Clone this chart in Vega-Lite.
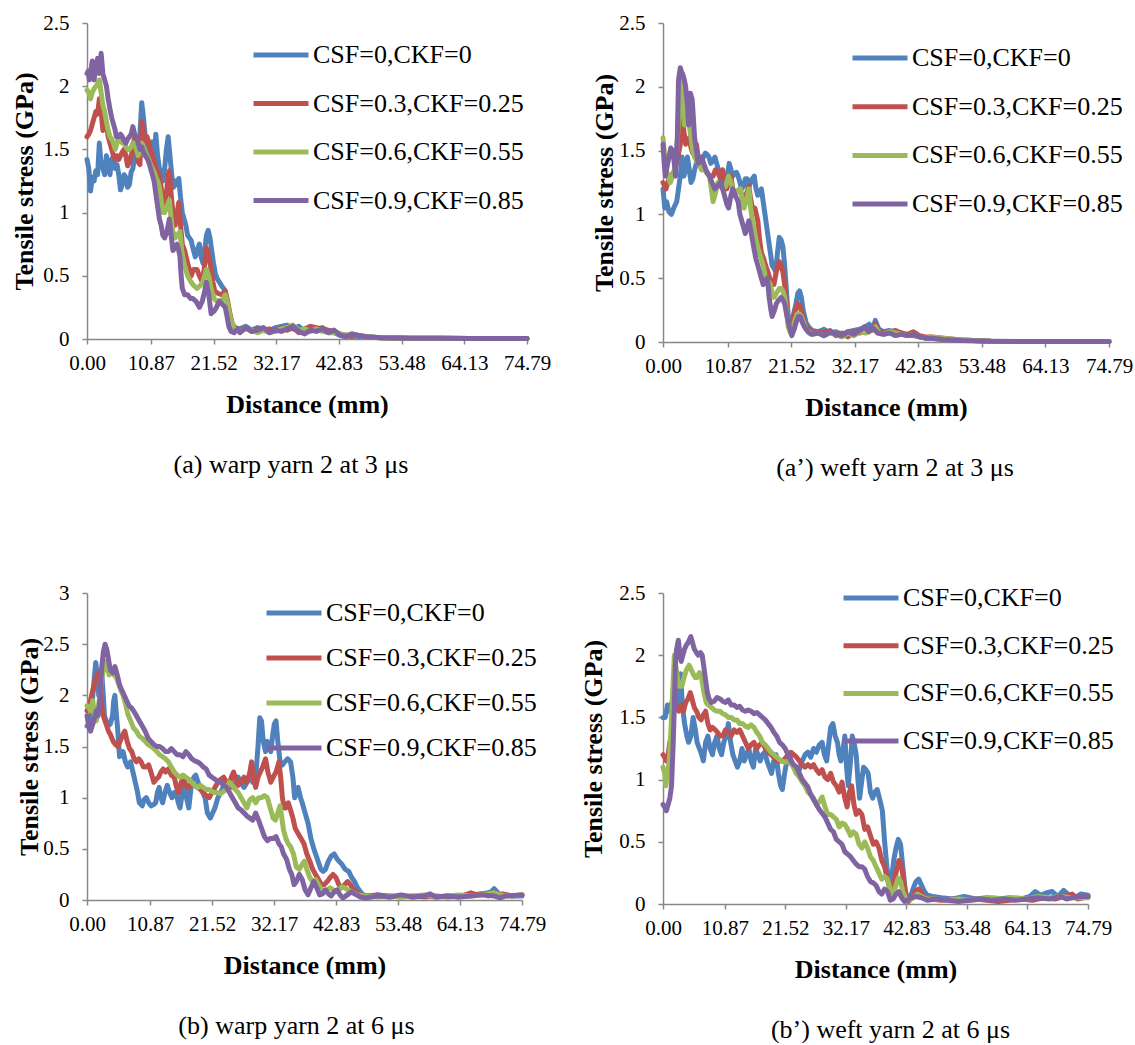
{
"$schema":"https://vega.github.io/schema/vega-lite/v6.json",
"background":"white",
"padding":{"left":11,"top":12,"right":0,"bottom":0},
"config":{
 "font":"Liberation Serif",
 "view":{"stroke":null},
 "axis":{"domainColor":"#888888","tickColor":"#888888","domainWidth":1.5,"tickWidth":1.5,"labelColor":"black","titleColor":"black","labelFont":"Liberation Serif","titleFont":"Liberation Serif","labelFontSize":21,"titleFontSize":26,"titleFontWeight":"bold","grid":false,"tickSize":5,"labelOverlap":false,"labelFlush":false},
 "axisX":{"labelPadding":8,"titlePadding":18},
 "axisY":{"labelPadding":13},
 "legend":{"symbolType":"stroke","symbolSize":3025,"symbolStrokeWidth":5,"labelFontSize":26,"labelFont":"Liberation Serif","labelColor":"black","labelOffset":2,"padding":0,"offset":0,"labelLimit":400},
 "title":{"font":"Liberation Serif","fontSize":26,"fontWeight":"normal","color":"black","anchor":"middle","frame":"group"},
 "line":{"strokeWidth":5,"strokeCap":"round","strokeJoin":"round"}
},
"datasets":{
"a":[
{"s":0,"x":0,"y":1.42},{"s":0,"x":0.3,"y":1.35},{"s":0,"x":0.6,"y":1.17},{"s":0,"x":0.9,"y":1.28},{"s":0,"x":1.2,"y":1.25},{"s":0,"x":1.5,"y":1.33},{"s":0,"x":1.8,"y":1.3},{"s":0,"x":2.1,"y":1.55},{"s":0,"x":2.4,"y":1.38},{"s":0,"x":2.7,"y":1.35},{"s":0,"x":3.0,"y":1.3},{"s":0,"x":3.3,"y":1.45},{"s":0,"x":3.6,"y":1.38},{"s":0,"x":3.9,"y":1.3},{"s":0,"x":4.2,"y":1.42},{"s":0,"x":4.5,"y":1.45},{"s":0,"x":4.8,"y":1.35},{"s":0,"x":5.1,"y":1.38},{"s":0,"x":5.4,"y":1.3},{"s":0,"x":5.7,"y":1.18},{"s":0,"x":6.0,"y":1.22},{"s":0,"x":6.3,"y":1.3},{"s":0,"x":6.6,"y":1.28},{"s":0,"x":6.9,"y":1.2},{"s":0,"x":7.2,"y":1.22},{"s":0,"x":7.5,"y":1.32},{"s":0,"x":7.8,"y":1.35},{"s":0,"x":8.1,"y":1.45},{"s":0,"x":8.4,"y":1.55},{"s":0,"x":8.7,"y":1.45},{"s":0,"x":9.0,"y":1.62},{"s":0,"x":9.3,"y":1.87},{"s":0,"x":9.6,"y":1.75},{"s":0,"x":9.9,"y":1.6},{"s":0,"x":10.2,"y":1.5},{"s":0,"x":10.5,"y":1.4},{"s":0,"x":10.8,"y":1.5},{"s":0,"x":11.1,"y":1.56},{"s":0,"x":11.4,"y":1.42},{"s":0,"x":11.7,"y":1.62},{"s":0,"x":12.0,"y":1.45},{"s":0,"x":12.3,"y":1.35},{"s":0,"x":12.6,"y":1.3},{"s":0,"x":12.9,"y":1.25},{"s":0,"x":13.2,"y":1.35},{"s":0,"x":13.5,"y":1.5},{"s":0,"x":13.8,"y":1.6},{"s":0,"x":14.1,"y":1.45},{"s":0,"x":14.4,"y":1.3},{"s":0,"x":14.7,"y":1.2},{"s":0,"x":15.0,"y":1.25},{"s":0,"x":15.3,"y":1.22},{"s":0,"x":15.6,"y":1.27},{"s":0,"x":15.9,"y":1.12},{"s":0,"x":16.2,"y":1.0},{"s":0,"x":16.5,"y":0.95},{"s":0,"x":16.8,"y":0.9},{"s":0,"x":17.1,"y":0.82},{"s":0,"x":17.4,"y":0.8},{"s":0,"x":17.7,"y":0.78},{"s":0,"x":18.0,"y":0.72},{"s":0,"x":18.4,"y":0.65},{"s":0,"x":18.7,"y":0.7},{"s":0,"x":19.1,"y":0.75},{"s":0,"x":19.4,"y":0.65},{"s":0,"x":19.7,"y":0.6},{"s":0,"x":20.0,"y":0.7},{"s":0,"x":20.3,"y":0.82},{"s":0,"x":20.6,"y":0.86},{"s":0,"x":20.9,"y":0.8},{"s":0,"x":21.2,"y":0.7},{"s":0,"x":21.5,"y":0.6},{"s":0,"x":21.8,"y":0.52},{"s":0,"x":22.1,"y":0.48},{"s":0,"x":22.5,"y":0.45},{"s":0,"x":22.9,"y":0.42},{"s":0,"x":23.2,"y":0.4},{"s":0,"x":23.5,"y":0.38},{"s":0,"x":23.8,"y":0.3},{"s":0,"x":24.1,"y":0.2},{"s":0,"x":24.4,"y":0.14},{"s":0,"x":24.7,"y":0.1},{"s":0,"x":25.2,"y":0.09},{"s":0,"x":26,"y":0.08},{"s":0,"x":27,"y":0.1},{"s":0,"x":28,"y":0.07},{"s":0,"x":29,"y":0.09},{"s":0,"x":30,"y":0.08},{"s":0,"x":31,"y":0.06},{"s":0,"x":32,"y":0.09},{"s":0,"x":33,"y":0.1},{"s":0,"x":34,"y":0.11},{"s":0,"x":35,"y":0.08},{"s":0,"x":36,"y":0.1},{"s":0,"x":37,"y":0.06},{"s":0,"x":38,"y":0.08},{"s":0,"x":39,"y":0.07},{"s":0,"x":40,"y":0.09},{"s":0,"x":41,"y":0.06},{"s":0,"x":42,"y":0.05},{"s":0,"x":43,"y":0.03},{"s":0,"x":44,"y":0.02},{"s":0,"x":45,"y":0.03},{"s":0,"x":46,"y":0.02},{"s":0,"x":48,"y":0.015},{"s":0,"x":50,"y":0.01},{"s":0,"x":55,"y":0.005},{"s":0,"x":60,"y":0.005},{"s":0,"x":65,"y":0.003},{"s":0,"x":70,"y":0.003},{"s":0,"x":74.79,"y":0.003},
{"s":1,"x":0,"y":1.6},{"s":1,"x":0.3,"y":1.62},{"s":1,"x":0.6,"y":1.65},{"s":1,"x":0.9,"y":1.7},{"s":1,"x":1.2,"y":1.75},{"s":1,"x":1.5,"y":1.8},{"s":1,"x":1.8,"y":1.78},{"s":1,"x":2.1,"y":1.9},{"s":1,"x":2.4,"y":1.8},{"s":1,"x":2.7,"y":1.65},{"s":1,"x":3.0,"y":1.68},{"s":1,"x":3.3,"y":1.7},{"s":1,"x":3.6,"y":1.6},{"s":1,"x":3.9,"y":1.55},{"s":1,"x":4.2,"y":1.5},{"s":1,"x":4.5,"y":1.45},{"s":1,"x":4.8,"y":1.42},{"s":1,"x":5.1,"y":1.45},{"s":1,"x":5.4,"y":1.42},{"s":1,"x":5.7,"y":1.45},{"s":1,"x":6.0,"y":1.48},{"s":1,"x":6.3,"y":1.5},{"s":1,"x":6.6,"y":1.45},{"s":1,"x":6.9,"y":1.37},{"s":1,"x":7.2,"y":1.4},{"s":1,"x":7.5,"y":1.45},{"s":1,"x":7.8,"y":1.5},{"s":1,"x":8.1,"y":1.6},{"s":1,"x":8.4,"y":1.5},{"s":1,"x":8.7,"y":1.4},{"s":1,"x":9.0,"y":1.38},{"s":1,"x":9.3,"y":1.72},{"s":1,"x":9.6,"y":1.65},{"s":1,"x":9.9,"y":1.55},{"s":1,"x":10.2,"y":1.6},{"s":1,"x":10.5,"y":1.55},{"s":1,"x":10.8,"y":1.5},{"s":1,"x":11.1,"y":1.45},{"s":1,"x":11.4,"y":1.4},{"s":1,"x":11.7,"y":1.35},{"s":1,"x":12.0,"y":1.32},{"s":1,"x":12.3,"y":1.3},{"s":1,"x":12.6,"y":1.2},{"s":1,"x":12.9,"y":1.1},{"s":1,"x":13.2,"y":1.05},{"s":1,"x":13.5,"y":1.15},{"s":1,"x":13.8,"y":1.3},{"s":1,"x":14.0,"y":1.33},{"s":1,"x":14.3,"y":1.15},{"s":1,"x":14.6,"y":1.0},{"s":1,"x":15.0,"y":0.9},{"s":1,"x":15.3,"y":1.0},{"s":1,"x":15.6,"y":1.08},{"s":1,"x":15.9,"y":0.9},{"s":1,"x":16.2,"y":0.75},{"s":1,"x":16.6,"y":0.7},{"s":1,"x":17.1,"y":0.6},{"s":1,"x":17.4,"y":0.55},{"s":1,"x":17.7,"y":0.5},{"s":1,"x":18.1,"y":0.55},{"s":1,"x":18.7,"y":0.55},{"s":1,"x":19.1,"y":0.5},{"s":1,"x":19.6,"y":0.45},{"s":1,"x":19.9,"y":0.55},{"s":1,"x":20.3,"y":0.72},{"s":1,"x":20.6,"y":0.68},{"s":1,"x":21.1,"y":0.55},{"s":1,"x":21.4,"y":0.45},{"s":1,"x":21.7,"y":0.38},{"s":1,"x":22.3,"y":0.36},{"s":1,"x":22.9,"y":0.35},{"s":1,"x":23.5,"y":0.38},{"s":1,"x":23.9,"y":0.3},{"s":1,"x":24.3,"y":0.2},{"s":1,"x":24.7,"y":0.12},{"s":1,"x":25.3,"y":0.08},{"s":1,"x":26,"y":0.07},{"s":1,"x":27,"y":0.09},{"s":1,"x":28,"y":0.06},{"s":1,"x":29,"y":0.08},{"s":1,"x":30,"y":0.07},{"s":1,"x":31,"y":0.08},{"s":1,"x":32,"y":0.06},{"s":1,"x":33,"y":0.09},{"s":1,"x":34,"y":0.07},{"s":1,"x":35,"y":0.09},{"s":1,"x":36,"y":0.05},{"s":1,"x":37,"y":0.08},{"s":1,"x":38,"y":0.1},{"s":1,"x":39,"y":0.09},{"s":1,"x":40,"y":0.08},{"s":1,"x":41,"y":0.07},{"s":1,"x":42,"y":0.06},{"s":1,"x":43,"y":0.04},{"s":1,"x":44,"y":0.03},{"s":1,"x":45,"y":0.02},{"s":1,"x":46,"y":0.03},{"s":1,"x":48,"y":0.015},{"s":1,"x":50,"y":0.01},{"s":1,"x":55,"y":0.006},{"s":1,"x":60,"y":0.005},{"s":1,"x":65,"y":0.004},{"s":1,"x":70,"y":0.003},{"s":1,"x":74.79,"y":0.003},
{"s":2,"x":0,"y":1.97},{"s":2,"x":0.3,"y":1.95},{"s":2,"x":0.6,"y":1.9},{"s":2,"x":0.9,"y":1.95},{"s":2,"x":1.2,"y":1.98},{"s":2,"x":1.5,"y":2.0},{"s":2,"x":1.8,"y":2.02},{"s":2,"x":2.1,"y":2.05},{"s":2,"x":2.4,"y":1.95},{"s":2,"x":2.7,"y":1.85},{"s":2,"x":3.0,"y":1.8},{"s":2,"x":3.3,"y":1.72},{"s":2,"x":3.6,"y":1.65},{"s":2,"x":3.9,"y":1.6},{"s":2,"x":4.2,"y":1.58},{"s":2,"x":4.5,"y":1.55},{"s":2,"x":4.8,"y":1.5},{"s":2,"x":5.1,"y":1.55},{"s":2,"x":5.4,"y":1.6},{"s":2,"x":5.7,"y":1.57},{"s":2,"x":6.0,"y":1.55},{"s":2,"x":6.3,"y":1.55},{"s":2,"x":6.6,"y":1.52},{"s":2,"x":6.9,"y":1.5},{"s":2,"x":7.2,"y":1.5},{"s":2,"x":7.5,"y":1.52},{"s":2,"x":7.8,"y":1.55},{"s":2,"x":8.1,"y":1.55},{"s":2,"x":8.4,"y":1.5},{"s":2,"x":8.7,"y":1.45},{"s":2,"x":9.0,"y":1.48},{"s":2,"x":9.3,"y":1.55},{"s":2,"x":9.6,"y":1.52},{"s":2,"x":9.9,"y":1.48},{"s":2,"x":10.2,"y":1.45},{"s":2,"x":10.5,"y":1.42},{"s":2,"x":10.8,"y":1.38},{"s":2,"x":11.1,"y":1.35},{"s":2,"x":11.4,"y":1.32},{"s":2,"x":11.7,"y":1.28},{"s":2,"x":12.0,"y":1.25},{"s":2,"x":12.3,"y":1.2},{"s":2,"x":12.6,"y":1.1},{"s":2,"x":12.9,"y":1.0},{"s":2,"x":13.2,"y":1.0},{"s":2,"x":13.6,"y":1.05},{"s":2,"x":14.0,"y":1.1},{"s":2,"x":14.3,"y":0.95},{"s":2,"x":14.6,"y":0.85},{"s":2,"x":15.0,"y":0.8},{"s":2,"x":15.3,"y":0.82},{"s":2,"x":15.8,"y":0.85},{"s":2,"x":16.1,"y":0.7},{"s":2,"x":16.5,"y":0.6},{"s":2,"x":17.1,"y":0.5},{"s":2,"x":17.7,"y":0.45},{"s":2,"x":18.2,"y":0.42},{"s":2,"x":18.7,"y":0.4},{"s":2,"x":19.2,"y":0.42},{"s":2,"x":19.7,"y":0.45},{"s":2,"x":20.3,"y":0.55},{"s":2,"x":20.7,"y":0.5},{"s":2,"x":21.1,"y":0.4},{"s":2,"x":21.6,"y":0.32},{"s":2,"x":22.0,"y":0.3},{"s":2,"x":22.5,"y":0.3},{"s":2,"x":22.9,"y":0.3},{"s":2,"x":23.5,"y":0.35},{"s":2,"x":23.9,"y":0.28},{"s":2,"x":24.3,"y":0.18},{"s":2,"x":24.7,"y":0.12},{"s":2,"x":25.3,"y":0.07},{"s":2,"x":26,"y":0.06},{"s":2,"x":27,"y":0.08},{"s":2,"x":28,"y":0.07},{"s":2,"x":29,"y":0.05},{"s":2,"x":30,"y":0.07},{"s":2,"x":31,"y":0.05},{"s":2,"x":32,"y":0.06},{"s":2,"x":33,"y":0.08},{"s":2,"x":34,"y":0.09},{"s":2,"x":35,"y":0.11},{"s":2,"x":36,"y":0.07},{"s":2,"x":37,"y":0.08},{"s":2,"x":38,"y":0.06},{"s":2,"x":39,"y":0.08},{"s":2,"x":40,"y":0.06},{"s":2,"x":41,"y":0.05},{"s":2,"x":42,"y":0.05},{"s":2,"x":43,"y":0.04},{"s":2,"x":44,"y":0.03},{"s":2,"x":45,"y":0.04},{"s":2,"x":46,"y":0.03},{"s":2,"x":48,"y":0.015},{"s":2,"x":50,"y":0.01},{"s":2,"x":55,"y":0.006},{"s":2,"x":60,"y":0.005},{"s":2,"x":65,"y":0.004},{"s":2,"x":70,"y":0.003},{"s":2,"x":74.79,"y":0.003},
{"s":3,"x":0,"y":2.1},{"s":3,"x":0.2,"y":2.12},{"s":3,"x":0.4,"y":2.05},{"s":3,"x":0.6,"y":2.1},{"s":3,"x":0.9,"y":2.2},{"s":3,"x":1.2,"y":2.05},{"s":3,"x":1.5,"y":2.15},{"s":3,"x":1.8,"y":2.22},{"s":3,"x":2.1,"y":2.1},{"s":3,"x":2.4,"y":2.26},{"s":3,"x":2.7,"y":2.1},{"s":3,"x":3.0,"y":2.05},{"s":3,"x":3.3,"y":2.0},{"s":3,"x":3.6,"y":1.9},{"s":3,"x":3.9,"y":1.82},{"s":3,"x":4.2,"y":1.75},{"s":3,"x":4.5,"y":1.7},{"s":3,"x":4.8,"y":1.65},{"s":3,"x":5.0,"y":1.6},{"s":3,"x":5.4,"y":1.6},{"s":3,"x":5.7,"y":1.62},{"s":3,"x":6.0,"y":1.6},{"s":3,"x":6.3,"y":1.57},{"s":3,"x":6.6,"y":1.55},{"s":3,"x":6.9,"y":1.58},{"s":3,"x":7.2,"y":1.6},{"s":3,"x":7.5,"y":1.62},{"s":3,"x":7.8,"y":1.68},{"s":3,"x":8.1,"y":1.62},{"s":3,"x":8.4,"y":1.6},{"s":3,"x":8.7,"y":1.55},{"s":3,"x":9.0,"y":1.5},{"s":3,"x":9.3,"y":1.52},{"s":3,"x":9.6,"y":1.48},{"s":3,"x":9.9,"y":1.45},{"s":3,"x":10.2,"y":1.43},{"s":3,"x":10.5,"y":1.4},{"s":3,"x":10.8,"y":1.35},{"s":3,"x":11.1,"y":1.3},{"s":3,"x":11.4,"y":1.25},{"s":3,"x":11.7,"y":1.15},{"s":3,"x":12.0,"y":1.05},{"s":3,"x":12.3,"y":0.95},{"s":3,"x":12.6,"y":0.9},{"s":3,"x":12.9,"y":0.82},{"s":3,"x":13.2,"y":0.8},{"s":3,"x":13.6,"y":0.85},{"s":3,"x":14.0,"y":0.95},{"s":3,"x":14.3,"y":0.82},{"s":3,"x":14.6,"y":0.7},{"s":3,"x":15.0,"y":0.72},{"s":3,"x":15.3,"y":0.75},{"s":3,"x":15.6,"y":0.7},{"s":3,"x":15.8,"y":0.65},{"s":3,"x":16.0,"y":0.5},{"s":3,"x":16.2,"y":0.4},{"s":3,"x":16.6,"y":0.35},{"s":3,"x":17.1,"y":0.35},{"s":3,"x":17.6,"y":0.32},{"s":3,"x":18.0,"y":0.32},{"s":3,"x":18.5,"y":0.3},{"s":3,"x":19.1,"y":0.25},{"s":3,"x":19.6,"y":0.3},{"s":3,"x":20.0,"y":0.38},{"s":3,"x":20.3,"y":0.45},{"s":3,"x":20.7,"y":0.35},{"s":3,"x":21.1,"y":0.2},{"s":3,"x":21.6,"y":0.22},{"s":3,"x":22.0,"y":0.25},{"s":3,"x":22.5,"y":0.3},{"s":3,"x":22.9,"y":0.28},{"s":3,"x":23.5,"y":0.25},{"s":3,"x":23.8,"y":0.18},{"s":3,"x":24.1,"y":0.1},{"s":3,"x":24.5,"y":0.06},{"s":3,"x":25.0,"y":0.05},{"s":3,"x":25.6,"y":0.08},{"s":3,"x":26,"y":0.05},{"s":3,"x":27,"y":0.09},{"s":3,"x":28,"y":0.06},{"s":3,"x":29,"y":0.07},{"s":3,"x":30,"y":0.09},{"s":3,"x":31,"y":0.05},{"s":3,"x":32,"y":0.07},{"s":3,"x":33,"y":0.06},{"s":3,"x":34,"y":0.08},{"s":3,"x":35,"y":0.1},{"s":3,"x":36,"y":0.06},{"s":3,"x":37,"y":0.04},{"s":3,"x":38,"y":0.07},{"s":3,"x":39,"y":0.06},{"s":3,"x":40,"y":0.08},{"s":3,"x":41,"y":0.05},{"s":3,"x":42,"y":0.07},{"s":3,"x":43,"y":0.03},{"s":3,"x":44,"y":0.02},{"s":3,"x":45,"y":0.04},{"s":3,"x":46,"y":0.03},{"s":3,"x":48,"y":0.015},{"s":3,"x":50,"y":0.01},{"s":3,"x":55,"y":0.006},{"s":3,"x":60,"y":0.005},{"s":3,"x":65,"y":0.004},{"s":3,"x":70,"y":0.003},{"s":3,"x":74.79,"y":0.003}
],
"a2":[
{"s":0,"x":0,"y":1.2},{"s":0,"x":0.3,"y":1.05},{"s":0,"x":0.6,"y":1.1},{"s":0,"x":1.0,"y":1.02},{"s":0,"x":1.4,"y":1.0},{"s":0,"x":1.8,"y":1.05},{"s":0,"x":2.3,"y":1.1},{"s":0,"x":2.6,"y":1.2},{"s":0,"x":2.9,"y":1.3},{"s":0,"x":3.2,"y":1.45},{"s":0,"x":3.5,"y":1.3},{"s":0,"x":3.8,"y":1.35},{"s":0,"x":4.1,"y":1.45},{"s":0,"x":4.4,"y":1.35},{"s":0,"x":4.7,"y":1.25},{"s":0,"x":5.0,"y":1.28},{"s":0,"x":5.3,"y":1.35},{"s":0,"x":5.6,"y":1.4},{"s":0,"x":5.9,"y":1.45},{"s":0,"x":6.2,"y":1.45},{"s":0,"x":6.5,"y":1.42},{"s":0,"x":6.8,"y":1.45},{"s":0,"x":7.1,"y":1.48},{"s":0,"x":7.4,"y":1.47},{"s":0,"x":7.7,"y":1.45},{"s":0,"x":8.0,"y":1.4},{"s":0,"x":8.4,"y":1.42},{"s":0,"x":8.7,"y":1.45},{"s":0,"x":9.0,"y":1.4},{"s":0,"x":9.3,"y":1.35},{"s":0,"x":9.6,"y":1.3},{"s":0,"x":9.9,"y":1.3},{"s":0,"x":10.2,"y":1.25},{"s":0,"x":10.5,"y":1.2},{"s":0,"x":10.8,"y":1.3},{"s":0,"x":11.1,"y":1.4},{"s":0,"x":11.4,"y":1.35},{"s":0,"x":11.7,"y":1.3},{"s":0,"x":12.0,"y":1.32},{"s":0,"x":12.3,"y":1.33},{"s":0,"x":12.6,"y":1.3},{"s":0,"x":12.9,"y":1.25},{"s":0,"x":13.2,"y":1.2},{"s":0,"x":13.5,"y":1.22},{"s":0,"x":13.8,"y":1.28},{"s":0,"x":14.1,"y":1.28},{"s":0,"x":14.4,"y":1.22},{"s":0,"x":14.7,"y":1.25},{"s":0,"x":15.0,"y":1.28},{"s":0,"x":15.3,"y":1.3},{"s":0,"x":15.6,"y":1.2},{"s":0,"x":15.9,"y":1.15},{"s":0,"x":16.2,"y":1.18},{"s":0,"x":16.5,"y":1.2},{"s":0,"x":16.8,"y":1.1},{"s":0,"x":17.1,"y":1.0},{"s":0,"x":17.4,"y":0.9},{"s":0,"x":17.7,"y":0.8},{"s":0,"x":18.0,"y":0.7},{"s":0,"x":18.3,"y":0.6},{"s":0,"x":18.6,"y":0.58},{"s":0,"x":18.9,"y":0.55},{"s":0,"x":19.2,"y":0.7},{"s":0,"x":19.5,"y":0.82},{"s":0,"x":19.8,"y":0.8},{"s":0,"x":20.1,"y":0.75},{"s":0,"x":20.4,"y":0.6},{"s":0,"x":20.7,"y":0.4},{"s":0,"x":21.0,"y":0.2},{"s":0,"x":21.4,"y":0.1},{"s":0,"x":21.8,"y":0.2},{"s":0,"x":22.3,"y":0.3},{"s":0,"x":22.6,"y":0.38},{"s":0,"x":22.9,"y":0.4},{"s":0,"x":23.2,"y":0.35},{"s":0,"x":23.5,"y":0.25},{"s":0,"x":24.0,"y":0.15},{"s":0,"x":24.4,"y":0.12},{"s":0,"x":25,"y":0.09},{"s":0,"x":26,"y":0.08},{"s":0,"x":27,"y":0.1},{"s":0,"x":28,"y":0.07},{"s":0,"x":29,"y":0.08},{"s":0,"x":30,"y":0.06},{"s":0,"x":31,"y":0.08},{"s":0,"x":32,"y":0.09},{"s":0,"x":33,"y":0.1},{"s":0,"x":34,"y":0.12},{"s":0,"x":34.6,"y":0.14},{"s":0,"x":35.2,"y":0.1},{"s":0,"x":35.6,"y":0.17},{"s":0,"x":36.2,"y":0.1},{"s":0,"x":37,"y":0.08},{"s":0,"x":38,"y":0.09},{"s":0,"x":39,"y":0.07},{"s":0,"x":40,"y":0.07},{"s":0,"x":41,"y":0.05},{"s":0,"x":42,"y":0.05},{"s":0,"x":43,"y":0.04},{"s":0,"x":44,"y":0.03},{"s":0,"x":45,"y":0.03},{"s":0,"x":47,"y":0.02},{"s":0,"x":50,"y":0.015},{"s":0,"x":55,"y":0.005},{"s":0,"x":60,"y":0.004},{"s":0,"x":65,"y":0.003},{"s":0,"x":70,"y":0.003},{"s":0,"x":74.79,"y":0.003},
{"s":1,"x":0,"y":1.25},{"s":1,"x":0.5,"y":1.2},{"s":1,"x":1.0,"y":1.28},{"s":1,"x":1.4,"y":1.3},{"s":1,"x":2.0,"y":1.35},{"s":1,"x":2.5,"y":1.45},{"s":1,"x":2.9,"y":1.55},{"s":1,"x":3.2,"y":1.8},{"s":1,"x":3.5,"y":1.65},{"s":1,"x":3.8,"y":1.55},{"s":1,"x":4.1,"y":1.58},{"s":1,"x":4.4,"y":1.6},{"s":1,"x":4.7,"y":1.52},{"s":1,"x":5.0,"y":1.48},{"s":1,"x":5.3,"y":1.5},{"s":1,"x":5.6,"y":1.55},{"s":1,"x":5.9,"y":1.45},{"s":1,"x":6.2,"y":1.4},{"s":1,"x":6.5,"y":1.35},{"s":1,"x":7.0,"y":1.35},{"s":1,"x":7.4,"y":1.33},{"s":1,"x":7.8,"y":1.3},{"s":1,"x":8.4,"y":1.3},{"s":1,"x":8.8,"y":1.35},{"s":1,"x":9.3,"y":1.32},{"s":1,"x":9.6,"y":1.28},{"s":1,"x":10.0,"y":1.35},{"s":1,"x":10.4,"y":1.28},{"s":1,"x":10.7,"y":1.2},{"s":1,"x":11.0,"y":1.25},{"s":1,"x":11.4,"y":1.3},{"s":1,"x":11.7,"y":1.2},{"s":1,"x":12.0,"y":1.15},{"s":1,"x":12.4,"y":1.18},{"s":1,"x":12.9,"y":1.2},{"s":1,"x":13.2,"y":1.15},{"s":1,"x":13.5,"y":1.1},{"s":1,"x":13.9,"y":1.15},{"s":1,"x":14.4,"y":1.22},{"s":1,"x":14.7,"y":1.12},{"s":1,"x":15.0,"y":1.05},{"s":1,"x":15.4,"y":1.05},{"s":1,"x":15.9,"y":0.95},{"s":1,"x":16.2,"y":0.8},{"s":1,"x":16.5,"y":0.7},{"s":1,"x":16.9,"y":0.65},{"s":1,"x":17.2,"y":0.6},{"s":1,"x":17.6,"y":0.55},{"s":1,"x":17.9,"y":0.5},{"s":1,"x":18.3,"y":0.45},{"s":1,"x":18.6,"y":0.45},{"s":1,"x":19.0,"y":0.55},{"s":1,"x":19.5,"y":0.63},{"s":1,"x":19.8,"y":0.6},{"s":1,"x":20.1,"y":0.55},{"s":1,"x":20.4,"y":0.45},{"s":1,"x":20.7,"y":0.3},{"s":1,"x":21.0,"y":0.15},{"s":1,"x":21.4,"y":0.08},{"s":1,"x":21.8,"y":0.15},{"s":1,"x":22.2,"y":0.25},{"s":1,"x":22.6,"y":0.3},{"s":1,"x":23.0,"y":0.28},{"s":1,"x":23.4,"y":0.2},{"s":1,"x":23.8,"y":0.14},{"s":1,"x":24.4,"y":0.1},{"s":1,"x":25,"y":0.07},{"s":1,"x":26,"y":0.08},{"s":1,"x":27,"y":0.07},{"s":1,"x":28,"y":0.09},{"s":1,"x":29,"y":0.05},{"s":1,"x":30,"y":0.07},{"s":1,"x":31,"y":0.04},{"s":1,"x":32,"y":0.08},{"s":1,"x":33,"y":0.07},{"s":1,"x":34,"y":0.1},{"s":1,"x":35,"y":0.09},{"s":1,"x":35.6,"y":0.14},{"s":1,"x":36.2,"y":0.08},{"s":1,"x":37,"y":0.07},{"s":1,"x":38,"y":0.08},{"s":1,"x":39,"y":0.09},{"s":1,"x":40,"y":0.07},{"s":1,"x":41,"y":0.06},{"s":1,"x":42,"y":0.08},{"s":1,"x":43,"y":0.05},{"s":1,"x":44,"y":0.04},{"s":1,"x":45,"y":0.04},{"s":1,"x":47,"y":0.03},{"s":1,"x":50,"y":0.015},{"s":1,"x":55,"y":0.006},{"s":1,"x":60,"y":0.004},{"s":1,"x":65,"y":0.003},{"s":1,"x":70,"y":0.003},{"s":1,"x":74.79,"y":0.003},
{"s":2,"x":0,"y":1.6},{"s":2,"x":0.3,"y":1.45},{"s":2,"x":0.5,"y":1.35},{"s":2,"x":0.9,"y":1.3},{"s":2,"x":1.2,"y":1.25},{"s":2,"x":1.6,"y":1.3},{"s":2,"x":2.0,"y":1.35},{"s":2,"x":2.3,"y":1.5},{"s":2,"x":2.6,"y":1.75},{"s":2,"x":2.8,"y":1.9},{"s":2,"x":3.0,"y":2.05},{"s":2,"x":3.3,"y":1.85},{"s":2,"x":3.6,"y":1.7},{"s":2,"x":3.9,"y":1.72},{"s":2,"x":4.1,"y":1.75},{"s":2,"x":4.4,"y":1.7},{"s":2,"x":4.7,"y":1.6},{"s":2,"x":5.0,"y":1.5},{"s":2,"x":5.3,"y":1.45},{"s":2,"x":5.6,"y":1.42},{"s":2,"x":5.9,"y":1.4},{"s":2,"x":6.2,"y":1.38},{"s":2,"x":6.5,"y":1.35},{"s":2,"x":7.0,"y":1.35},{"s":2,"x":7.4,"y":1.32},{"s":2,"x":7.8,"y":1.3},{"s":2,"x":8.1,"y":1.2},{"s":2,"x":8.4,"y":1.1},{"s":2,"x":8.7,"y":1.15},{"s":2,"x":9.2,"y":1.25},{"s":2,"x":9.6,"y":1.22},{"s":2,"x":10.0,"y":1.2},{"s":2,"x":10.5,"y":1.22},{"s":2,"x":11.0,"y":1.3},{"s":2,"x":11.4,"y":1.25},{"s":2,"x":12.0,"y":1.15},{"s":2,"x":12.5,"y":1.18},{"s":2,"x":13.0,"y":1.2},{"s":2,"x":13.3,"y":1.1},{"s":2,"x":13.6,"y":1.05},{"s":2,"x":14.0,"y":1.12},{"s":2,"x":14.4,"y":1.2},{"s":2,"x":14.7,"y":1.05},{"s":2,"x":15.0,"y":0.95},{"s":2,"x":15.3,"y":0.88},{"s":2,"x":15.6,"y":0.8},{"s":2,"x":16.0,"y":0.72},{"s":2,"x":16.5,"y":0.65},{"s":2,"x":16.8,"y":0.6},{"s":2,"x":17.2,"y":0.5},{"s":2,"x":17.6,"y":0.48},{"s":2,"x":18.0,"y":0.45},{"s":2,"x":18.3,"y":0.38},{"s":2,"x":18.6,"y":0.35},{"s":2,"x":19.0,"y":0.38},{"s":2,"x":19.5,"y":0.42},{"s":2,"x":19.8,"y":0.42},{"s":2,"x":20.1,"y":0.4},{"s":2,"x":20.4,"y":0.35},{"s":2,"x":20.7,"y":0.25},{"s":2,"x":21.0,"y":0.12},{"s":2,"x":21.4,"y":0.07},{"s":2,"x":21.8,"y":0.12},{"s":2,"x":22.2,"y":0.18},{"s":2,"x":22.5,"y":0.22},{"s":2,"x":22.9,"y":0.22},{"s":2,"x":23.2,"y":0.2},{"s":2,"x":23.6,"y":0.15},{"s":2,"x":24.0,"y":0.1},{"s":2,"x":24.4,"y":0.08},{"s":2,"x":25,"y":0.06},{"s":2,"x":26,"y":0.07},{"s":2,"x":27,"y":0.05},{"s":2,"x":28,"y":0.07},{"s":2,"x":29,"y":0.06},{"s":2,"x":30,"y":0.04},{"s":2,"x":31,"y":0.07},{"s":2,"x":32,"y":0.05},{"s":2,"x":33,"y":0.08},{"s":2,"x":34,"y":0.07},{"s":2,"x":35,"y":0.09},{"s":2,"x":35.6,"y":0.12},{"s":2,"x":36.2,"y":0.07},{"s":2,"x":37,"y":0.06},{"s":2,"x":38,"y":0.08},{"s":2,"x":39,"y":0.07},{"s":2,"x":40,"y":0.06},{"s":2,"x":41,"y":0.05},{"s":2,"x":42,"y":0.06},{"s":2,"x":43,"y":0.04},{"s":2,"x":44,"y":0.03},{"s":2,"x":45,"y":0.04},{"s":2,"x":47,"y":0.03},{"s":2,"x":50,"y":0.015},{"s":2,"x":55,"y":0.006},{"s":2,"x":60,"y":0.004},{"s":2,"x":65,"y":0.003},{"s":2,"x":70,"y":0.003},{"s":2,"x":74.79,"y":0.003},
{"s":3,"x":0,"y":1.55},{"s":3,"x":0.2,"y":1.4},{"s":3,"x":0.4,"y":1.3},{"s":3,"x":0.7,"y":1.38},{"s":3,"x":1.0,"y":1.45},{"s":3,"x":1.3,"y":1.52},{"s":3,"x":1.6,"y":1.5},{"s":3,"x":1.9,"y":1.4},{"s":3,"x":2.1,"y":1.3},{"s":3,"x":2.4,"y":1.6},{"s":3,"x":2.6,"y":2.05},{"s":3,"x":2.9,"y":2.15},{"s":3,"x":3.1,"y":2.12},{"s":3,"x":3.3,"y":2.1},{"s":3,"x":3.6,"y":2.05},{"s":3,"x":3.8,"y":2.0},{"s":3,"x":4.1,"y":1.85},{"s":3,"x":4.3,"y":1.7},{"s":3,"x":4.6,"y":1.95},{"s":3,"x":4.9,"y":1.9},{"s":3,"x":5.1,"y":1.75},{"s":3,"x":5.3,"y":1.6},{"s":3,"x":5.6,"y":1.5},{"s":3,"x":5.9,"y":1.4},{"s":3,"x":6.2,"y":1.42},{"s":3,"x":6.5,"y":1.45},{"s":3,"x":6.8,"y":1.4},{"s":3,"x":7.2,"y":1.35},{"s":3,"x":7.5,"y":1.32},{"s":3,"x":7.8,"y":1.3},{"s":3,"x":8.2,"y":1.25},{"s":3,"x":8.7,"y":1.2},{"s":3,"x":9.1,"y":1.22},{"s":3,"x":9.6,"y":1.25},{"s":3,"x":10.0,"y":1.2},{"s":3,"x":10.3,"y":1.15},{"s":3,"x":10.7,"y":1.08},{"s":3,"x":11.0,"y":1.05},{"s":3,"x":11.4,"y":1.15},{"s":3,"x":11.7,"y":1.2},{"s":3,"x":12.1,"y":1.15},{"s":3,"x":12.6,"y":1.1},{"s":3,"x":12.9,"y":1.0},{"s":3,"x":13.2,"y":0.95},{"s":3,"x":13.5,"y":0.9},{"s":3,"x":13.8,"y":0.85},{"s":3,"x":14.1,"y":0.9},{"s":3,"x":14.4,"y":0.95},{"s":3,"x":14.7,"y":0.88},{"s":3,"x":15.0,"y":0.8},{"s":3,"x":15.3,"y":0.72},{"s":3,"x":15.6,"y":0.65},{"s":3,"x":15.9,"y":0.6},{"s":3,"x":16.2,"y":0.55},{"s":3,"x":16.5,"y":0.5},{"s":3,"x":16.8,"y":0.45},{"s":3,"x":17.1,"y":0.48},{"s":3,"x":17.5,"y":0.5},{"s":3,"x":17.8,"y":0.35},{"s":3,"x":18.1,"y":0.25},{"s":3,"x":18.3,"y":0.2},{"s":3,"x":18.7,"y":0.25},{"s":3,"x":19.0,"y":0.3},{"s":3,"x":19.4,"y":0.33},{"s":3,"x":19.8,"y":0.35},{"s":3,"x":20.1,"y":0.33},{"s":3,"x":20.4,"y":0.3},{"s":3,"x":20.8,"y":0.2},{"s":3,"x":21.2,"y":0.12},{"s":3,"x":21.6,"y":0.05},{"s":3,"x":22.0,"y":0.1},{"s":3,"x":22.3,"y":0.15},{"s":3,"x":22.7,"y":0.2},{"s":3,"x":23.0,"y":0.2},{"s":3,"x":23.4,"y":0.15},{"s":3,"x":23.7,"y":0.12},{"s":3,"x":24.0,"y":0.1},{"s":3,"x":24.5,"y":0.07},{"s":3,"x":25,"y":0.06},{"s":3,"x":26,"y":0.07},{"s":3,"x":27,"y":0.05},{"s":3,"x":28,"y":0.08},{"s":3,"x":29,"y":0.06},{"s":3,"x":30,"y":0.05},{"s":3,"x":31,"y":0.08},{"s":3,"x":32,"y":0.06},{"s":3,"x":33,"y":0.09},{"s":3,"x":33.8,"y":0.12},{"s":3,"x":34.5,"y":0.08},{"s":3,"x":35.2,"y":0.11},{"s":3,"x":36,"y":0.07},{"s":3,"x":37,"y":0.06},{"s":3,"x":38,"y":0.07},{"s":3,"x":39,"y":0.05},{"s":3,"x":40,"y":0.06},{"s":3,"x":41,"y":0.05},{"s":3,"x":42,"y":0.06},{"s":3,"x":43,"y":0.04},{"s":3,"x":44,"y":0.03},{"s":3,"x":45,"y":0.03},{"s":3,"x":47,"y":0.02},{"s":3,"x":50,"y":0.012},{"s":3,"x":55,"y":0.006},{"s":3,"x":60,"y":0.004},{"s":3,"x":65,"y":0.003},{"s":3,"x":70,"y":0.003},{"s":3,"x":74.79,"y":0.003}
],
"b":[
{"s":0,"x":0,"y":1.7},{"s":0,"x":0.3,"y":1.7},{"s":0,"x":0.6,"y":1.75},{"s":0,"x":1.0,"y":2.0},{"s":0,"x":1.3,"y":2.2},{"s":0,"x":1.5,"y":2.32},{"s":0,"x":1.8,"y":2.2},{"s":0,"x":2.0,"y":2.0},{"s":0,"x":2.3,"y":2.15},{"s":0,"x":2.5,"y":2.25},{"s":0,"x":2.8,"y":2.0},{"s":0,"x":3.0,"y":1.8},{"s":0,"x":3.3,"y":1.75},{"s":0,"x":3.6,"y":1.7},{"s":0,"x":4.0,"y":1.72},{"s":0,"x":4.4,"y":1.8},{"s":0,"x":4.6,"y":1.95},{"s":0,"x":4.8,"y":2.0},{"s":0,"x":5.0,"y":1.85},{"s":0,"x":5.3,"y":1.65},{"s":0,"x":5.6,"y":1.4},{"s":0,"x":5.9,"y":1.42},{"s":0,"x":6.2,"y":1.45},{"s":0,"x":6.6,"y":1.35},{"s":0,"x":7.0,"y":1.3},{"s":0,"x":7.5,"y":1.35},{"s":0,"x":7.9,"y":1.25},{"s":0,"x":8.3,"y":1.15},{"s":0,"x":8.7,"y":1.05},{"s":0,"x":9.0,"y":0.95},{"s":0,"x":9.5,"y":0.92},{"s":0,"x":9.8,"y":0.98},{"s":0,"x":10.2,"y":1.0},{"s":0,"x":10.6,"y":0.95},{"s":0,"x":11.0,"y":0.92},{"s":0,"x":11.4,"y":0.93},{"s":0,"x":11.8,"y":0.95},{"s":0,"x":12.1,"y":1.05},{"s":0,"x":12.4,"y":1.1},{"s":0,"x":12.7,"y":1.0},{"s":0,"x":13.0,"y":0.95},{"s":0,"x":13.4,"y":1.05},{"s":0,"x":13.8,"y":1.12},{"s":0,"x":14.2,"y":1.05},{"s":0,"x":14.6,"y":1.0},{"s":0,"x":15.0,"y":1.05},{"s":0,"x":15.3,"y":1.05},{"s":0,"x":15.7,"y":0.95},{"s":0,"x":16.0,"y":0.9},{"s":0,"x":16.4,"y":1.05},{"s":0,"x":16.7,"y":1.2},{"s":0,"x":17.1,"y":1.0},{"s":0,"x":17.5,"y":0.9},{"s":0,"x":17.8,"y":1.05},{"s":0,"x":18.0,"y":1.15},{"s":0,"x":18.4,"y":1.2},{"s":0,"x":18.7,"y":1.22},{"s":0,"x":19.1,"y":1.15},{"s":0,"x":19.5,"y":1.1},{"s":0,"x":19.9,"y":1.05},{"s":0,"x":20.3,"y":1.0},{"s":0,"x":20.7,"y":0.85},{"s":0,"x":21.2,"y":0.8},{"s":0,"x":21.6,"y":0.85},{"s":0,"x":22.0,"y":0.9},{"s":0,"x":22.5,"y":1.0},{"s":0,"x":23.0,"y":1.05},{"s":0,"x":23.5,"y":1.12},{"s":0,"x":24.0,"y":1.15},{"s":0,"x":24.5,"y":1.12},{"s":0,"x":25.0,"y":1.1},{"s":0,"x":25.5,"y":1.15},{"s":0,"x":26.0,"y":1.2},{"s":0,"x":26.5,"y":1.15},{"s":0,"x":27.0,"y":1.1},{"s":0,"x":27.5,"y":1.15},{"s":0,"x":28.0,"y":1.2},{"s":0,"x":28.5,"y":1.15},{"s":0,"x":29.0,"y":1.2},{"s":0,"x":29.4,"y":1.5},{"s":0,"x":29.7,"y":1.78},{"s":0,"x":30.0,"y":1.75},{"s":0,"x":30.3,"y":1.55},{"s":0,"x":30.7,"y":1.45},{"s":0,"x":31.0,"y":1.55},{"s":0,"x":31.3,"y":1.5},{"s":0,"x":31.6,"y":1.45},{"s":0,"x":31.9,"y":1.6},{"s":0,"x":32.2,"y":1.72},{"s":0,"x":32.5,"y":1.75},{"s":0,"x":32.8,"y":1.55},{"s":0,"x":33.2,"y":1.35},{"s":0,"x":33.6,"y":1.32},{"s":0,"x":34.0,"y":1.35},{"s":0,"x":34.5,"y":1.38},{"s":0,"x":35.0,"y":1.35},{"s":0,"x":35.4,"y":1.2},{"s":0,"x":35.7,"y":1.0},{"s":0,"x":36.0,"y":1.05},{"s":0,"x":36.3,"y":1.1},{"s":0,"x":36.7,"y":1.0},{"s":0,"x":37.0,"y":0.95},{"s":0,"x":37.5,"y":0.85},{"s":0,"x":38.0,"y":0.75},{"s":0,"x":38.5,"y":0.6},{"s":0,"x":39.0,"y":0.5},{"s":0,"x":39.6,"y":0.4},{"s":0,"x":40.2,"y":0.3},{"s":0,"x":40.6,"y":0.28},{"s":0,"x":41.0,"y":0.3},{"s":0,"x":41.5,"y":0.38},{"s":0,"x":42.0,"y":0.43},{"s":0,"x":42.5,"y":0.45},{"s":0,"x":43.0,"y":0.4},{"s":0,"x":43.8,"y":0.35},{"s":0,"x":44.4,"y":0.3},{"s":0,"x":45.0,"y":0.28},{"s":0,"x":45.5,"y":0.22},{"s":0,"x":46.0,"y":0.18},{"s":0,"x":46.5,"y":0.12},{"s":0,"x":47.0,"y":0.08},{"s":0,"x":47.5,"y":0.05},{"s":0,"x":48.5,"y":0.04},{"s":0,"x":50,"y":0.05},{"s":0,"x":52,"y":0.04},{"s":0,"x":54,"y":0.03},{"s":0,"x":56,"y":0.04},{"s":0,"x":58,"y":0.03},{"s":0,"x":60,"y":0.04},{"s":0,"x":62,"y":0.03},{"s":0,"x":64,"y":0.04},{"s":0,"x":66,"y":0.05},{"s":0,"x":68,"y":0.06},{"s":0,"x":69.5,"y":0.08},{"s":0,"x":70,"y":0.11},{"s":0,"x":70.5,"y":0.08},{"s":0,"x":71.2,"y":0.04},{"s":0,"x":72,"y":0.05},{"s":0,"x":73,"y":0.04},{"s":0,"x":74.79,"y":0.04},
{"s":1,"x":0,"y":1.85},{"s":1,"x":0.4,"y":1.9},{"s":1,"x":0.8,"y":2.0},{"s":1,"x":1.2,"y":2.1},{"s":1,"x":1.6,"y":2.18},{"s":1,"x":1.9,"y":2.22},{"s":1,"x":2.2,"y":2.1},{"s":1,"x":2.5,"y":1.9},{"s":1,"x":2.8,"y":1.8},{"s":1,"x":3.1,"y":1.75},{"s":1,"x":3.4,"y":1.7},{"s":1,"x":3.7,"y":1.65},{"s":1,"x":4.0,"y":1.62},{"s":1,"x":4.5,"y":1.55},{"s":1,"x":4.9,"y":1.52},{"s":1,"x":5.3,"y":1.5},{"s":1,"x":5.7,"y":1.55},{"s":1,"x":6.0,"y":1.6},{"s":1,"x":6.5,"y":1.65},{"s":1,"x":6.9,"y":1.55},{"s":1,"x":7.3,"y":1.48},{"s":1,"x":7.7,"y":1.45},{"s":1,"x":8.1,"y":1.38},{"s":1,"x":8.5,"y":1.35},{"s":1,"x":8.9,"y":1.38},{"s":1,"x":9.3,"y":1.35},{"s":1,"x":9.7,"y":1.3},{"s":1,"x":10.2,"y":1.3},{"s":1,"x":10.6,"y":1.32},{"s":1,"x":11.0,"y":1.25},{"s":1,"x":11.5,"y":1.15},{"s":1,"x":11.9,"y":1.18},{"s":1,"x":12.3,"y":1.2},{"s":1,"x":12.7,"y":1.25},{"s":1,"x":13.1,"y":1.28},{"s":1,"x":13.5,"y":1.25},{"s":1,"x":14.0,"y":1.28},{"s":1,"x":14.5,"y":1.22},{"s":1,"x":15.0,"y":1.2},{"s":1,"x":15.4,"y":1.1},{"s":1,"x":15.8,"y":1.05},{"s":1,"x":16.2,"y":1.15},{"s":1,"x":16.6,"y":1.2},{"s":1,"x":17.0,"y":1.12},{"s":1,"x":17.5,"y":1.1},{"s":1,"x":18.0,"y":1.15},{"s":1,"x":18.5,"y":1.12},{"s":1,"x":19.0,"y":1.1},{"s":1,"x":19.5,"y":1.08},{"s":1,"x":20.0,"y":1.05},{"s":1,"x":20.5,"y":1.02},{"s":1,"x":21.0,"y":1.0},{"s":1,"x":21.5,"y":1.05},{"s":1,"x":22.0,"y":1.1},{"s":1,"x":22.5,"y":1.15},{"s":1,"x":23.0,"y":1.18},{"s":1,"x":23.5,"y":1.2},{"s":1,"x":24.0,"y":1.15},{"s":1,"x":24.4,"y":1.1},{"s":1,"x":24.8,"y":1.2},{"s":1,"x":25.2,"y":1.25},{"s":1,"x":25.6,"y":1.18},{"s":1,"x":26.0,"y":1.12},{"s":1,"x":26.5,"y":1.15},{"s":1,"x":27.0,"y":1.2},{"s":1,"x":27.5,"y":1.15},{"s":1,"x":28.0,"y":1.25},{"s":1,"x":28.3,"y":1.35},{"s":1,"x":28.6,"y":1.2},{"s":1,"x":29.0,"y":1.1},{"s":1,"x":29.4,"y":1.2},{"s":1,"x":29.8,"y":1.25},{"s":1,"x":30.2,"y":1.3},{"s":1,"x":30.7,"y":1.38},{"s":1,"x":31.1,"y":1.25},{"s":1,"x":31.6,"y":1.15},{"s":1,"x":32.0,"y":1.2},{"s":1,"x":32.5,"y":1.25},{"s":1,"x":33.0,"y":1.35},{"s":1,"x":33.3,"y":1.2},{"s":1,"x":33.6,"y":1.0},{"s":1,"x":33.9,"y":0.9},{"s":1,"x":34.2,"y":0.9},{"s":1,"x":34.6,"y":0.95},{"s":1,"x":35.0,"y":0.88},{"s":1,"x":35.4,"y":0.8},{"s":1,"x":35.8,"y":0.7},{"s":1,"x":36.3,"y":0.65},{"s":1,"x":36.8,"y":0.6},{"s":1,"x":37.3,"y":0.55},{"s":1,"x":37.8,"y":0.45},{"s":1,"x":38.3,"y":0.38},{"s":1,"x":38.8,"y":0.3},{"s":1,"x":39.3,"y":0.25},{"s":1,"x":39.8,"y":0.2},{"s":1,"x":40.3,"y":0.15},{"s":1,"x":40.8,"y":0.15},{"s":1,"x":41.3,"y":0.18},{"s":1,"x":41.8,"y":0.22},{"s":1,"x":42.3,"y":0.25},{"s":1,"x":42.8,"y":0.22},{"s":1,"x":43.3,"y":0.15},{"s":1,"x":43.8,"y":0.12},{"s":1,"x":44.3,"y":0.15},{"s":1,"x":44.8,"y":0.18},{"s":1,"x":45.3,"y":0.15},{"s":1,"x":45.8,"y":0.1},{"s":1,"x":46.3,"y":0.08},{"s":1,"x":47,"y":0.05},{"s":1,"x":48,"y":0.04},{"s":1,"x":50,"y":0.05},{"s":1,"x":52,"y":0.03},{"s":1,"x":54,"y":0.04},{"s":1,"x":56,"y":0.03},{"s":1,"x":58,"y":0.04},{"s":1,"x":60,"y":0.03},{"s":1,"x":62,"y":0.04},{"s":1,"x":64,"y":0.03},{"s":1,"x":65,"y":0.05},{"s":1,"x":66,"y":0.07},{"s":1,"x":67,"y":0.05},{"s":1,"x":68,"y":0.06},{"s":1,"x":69,"y":0.04},{"s":1,"x":70,"y":0.08},{"s":1,"x":70.6,"y":0.05},{"s":1,"x":71.5,"y":0.06},{"s":1,"x":73,"y":0.04},{"s":1,"x":74.79,"y":0.05},
{"s":2,"x":0,"y":1.9},{"s":2,"x":0.3,"y":1.88},{"s":2,"x":0.6,"y":1.85},{"s":2,"x":1.0,"y":1.95},{"s":2,"x":1.3,"y":1.8},{"s":2,"x":1.6,"y":1.75},{"s":2,"x":1.9,"y":1.85},{"s":2,"x":2.2,"y":2.0},{"s":2,"x":2.5,"y":2.15},{"s":2,"x":2.8,"y":2.25},{"s":2,"x":3.1,"y":2.33},{"s":2,"x":3.4,"y":2.28},{"s":2,"x":3.8,"y":2.2},{"s":2,"x":4.2,"y":2.25},{"s":2,"x":4.6,"y":2.2},{"s":2,"x":5.0,"y":2.18},{"s":2,"x":5.4,"y":2.12},{"s":2,"x":5.8,"y":2.05},{"s":2,"x":6.2,"y":2.0},{"s":2,"x":6.6,"y":1.92},{"s":2,"x":7.0,"y":1.82},{"s":2,"x":7.5,"y":1.75},{"s":2,"x":8.0,"y":1.68},{"s":2,"x":8.5,"y":1.65},{"s":2,"x":9.0,"y":1.6},{"s":2,"x":9.5,"y":1.58},{"s":2,"x":10.0,"y":1.55},{"s":2,"x":10.5,"y":1.52},{"s":2,"x":11.0,"y":1.5},{"s":2,"x":11.5,"y":1.48},{"s":2,"x":12.0,"y":1.45},{"s":2,"x":12.5,"y":1.42},{"s":2,"x":13.0,"y":1.4},{"s":2,"x":13.5,"y":1.38},{"s":2,"x":14.0,"y":1.35},{"s":2,"x":14.5,"y":1.3},{"s":2,"x":15.0,"y":1.25},{"s":2,"x":15.5,"y":1.22},{"s":2,"x":16.0,"y":1.2},{"s":2,"x":16.5,"y":1.22},{"s":2,"x":17.0,"y":1.2},{"s":2,"x":17.5,"y":1.18},{"s":2,"x":18.0,"y":1.15},{"s":2,"x":18.5,"y":1.12},{"s":2,"x":19.0,"y":1.1},{"s":2,"x":19.5,"y":1.12},{"s":2,"x":20.0,"y":1.1},{"s":2,"x":20.5,"y":1.08},{"s":2,"x":21.0,"y":1.08},{"s":2,"x":21.5,"y":1.06},{"s":2,"x":22.0,"y":1.05},{"s":2,"x":22.5,"y":1.05},{"s":2,"x":23.0,"y":1.04},{"s":2,"x":23.5,"y":1.06},{"s":2,"x":24.0,"y":1.1},{"s":2,"x":24.5,"y":1.15},{"s":2,"x":25.0,"y":1.12},{"s":2,"x":25.5,"y":1.08},{"s":2,"x":26.0,"y":1.05},{"s":2,"x":26.5,"y":1.0},{"s":2,"x":27.0,"y":0.95},{"s":2,"x":27.5,"y":0.9},{"s":2,"x":28.0,"y":0.98},{"s":2,"x":28.5,"y":1.0},{"s":2,"x":29.0,"y":0.95},{"s":2,"x":29.5,"y":1.0},{"s":2,"x":30.0,"y":1.0},{"s":2,"x":30.5,"y":1.02},{"s":2,"x":31.0,"y":1.0},{"s":2,"x":31.5,"y":0.9},{"s":2,"x":32.0,"y":0.8},{"s":2,"x":32.4,"y":0.78},{"s":2,"x":32.8,"y":0.85},{"s":2,"x":33.2,"y":0.92},{"s":2,"x":33.5,"y":0.8},{"s":2,"x":33.8,"y":0.68},{"s":2,"x":34.2,"y":0.6},{"s":2,"x":34.6,"y":0.55},{"s":2,"x":35.0,"y":0.52},{"s":2,"x":35.5,"y":0.45},{"s":2,"x":36.0,"y":0.32},{"s":2,"x":36.5,"y":0.3},{"s":2,"x":37.0,"y":0.35},{"s":2,"x":37.4,"y":0.38},{"s":2,"x":37.8,"y":0.3},{"s":2,"x":38.3,"y":0.22},{"s":2,"x":38.8,"y":0.18},{"s":2,"x":39.3,"y":0.2},{"s":2,"x":39.8,"y":0.15},{"s":2,"x":40.3,"y":0.1},{"s":2,"x":40.8,"y":0.08},{"s":2,"x":41.3,"y":0.1},{"s":2,"x":41.8,"y":0.12},{"s":2,"x":42.3,"y":0.1},{"s":2,"x":42.8,"y":0.08},{"s":2,"x":43.3,"y":0.1},{"s":2,"x":43.8,"y":0.13},{"s":2,"x":44.3,"y":0.12},{"s":2,"x":44.8,"y":0.1},{"s":2,"x":45.5,"y":0.08},{"s":2,"x":46.5,"y":0.05},{"s":2,"x":48,"y":0.04},{"s":2,"x":50,"y":0.03},{"s":2,"x":52,"y":0.04},{"s":2,"x":54,"y":0.03},{"s":2,"x":56,"y":0.04},{"s":2,"x":58,"y":0.05},{"s":2,"x":60,"y":0.03},{"s":2,"x":62,"y":0.04},{"s":2,"x":64,"y":0.05},{"s":2,"x":66,"y":0.04},{"s":2,"x":68,"y":0.05},{"s":2,"x":70,"y":0.07},{"s":2,"x":71,"y":0.05},{"s":2,"x":72.5,"y":0.04},{"s":2,"x":74.79,"y":0.05},
{"s":3,"x":0,"y":1.8},{"s":3,"x":0.3,"y":1.7},{"s":3,"x":0.6,"y":1.65},{"s":3,"x":1.0,"y":1.72},{"s":3,"x":1.3,"y":1.78},{"s":3,"x":1.6,"y":1.85},{"s":3,"x":1.9,"y":1.8},{"s":3,"x":2.2,"y":1.95},{"s":3,"x":2.5,"y":2.25},{"s":3,"x":2.8,"y":2.42},{"s":3,"x":3.1,"y":2.5},{"s":3,"x":3.4,"y":2.45},{"s":3,"x":3.7,"y":2.35},{"s":3,"x":4.0,"y":2.25},{"s":3,"x":4.4,"y":2.22},{"s":3,"x":4.8,"y":2.28},{"s":3,"x":5.2,"y":2.2},{"s":3,"x":5.6,"y":2.1},{"s":3,"x":6.0,"y":2.05},{"s":3,"x":6.4,"y":2.0},{"s":3,"x":6.8,"y":1.95},{"s":3,"x":7.2,"y":1.9},{"s":3,"x":7.6,"y":1.88},{"s":3,"x":8.0,"y":1.85},{"s":3,"x":8.5,"y":1.8},{"s":3,"x":9.0,"y":1.75},{"s":3,"x":9.5,"y":1.7},{"s":3,"x":10.0,"y":1.65},{"s":3,"x":10.5,"y":1.58},{"s":3,"x":11.0,"y":1.55},{"s":3,"x":11.5,"y":1.52},{"s":3,"x":12.0,"y":1.5},{"s":3,"x":12.5,"y":1.5},{"s":3,"x":13.0,"y":1.48},{"s":3,"x":13.5,"y":1.45},{"s":3,"x":14.0,"y":1.45},{"s":3,"x":14.5,"y":1.48},{"s":3,"x":15.0,"y":1.45},{"s":3,"x":15.5,"y":1.42},{"s":3,"x":16.0,"y":1.42},{"s":3,"x":16.5,"y":1.4},{"s":3,"x":17.0,"y":1.45},{"s":3,"x":17.5,"y":1.42},{"s":3,"x":18.0,"y":1.38},{"s":3,"x":18.5,"y":1.36},{"s":3,"x":19.0,"y":1.35},{"s":3,"x":19.5,"y":1.33},{"s":3,"x":20.0,"y":1.3},{"s":3,"x":20.5,"y":1.28},{"s":3,"x":21.0,"y":1.22},{"s":3,"x":21.5,"y":1.2},{"s":3,"x":22.0,"y":1.18},{"s":3,"x":22.5,"y":1.16},{"s":3,"x":23.0,"y":1.15},{"s":3,"x":23.5,"y":1.12},{"s":3,"x":24.0,"y":1.1},{"s":3,"x":24.5,"y":1.05},{"s":3,"x":25.0,"y":1.0},{"s":3,"x":25.5,"y":0.95},{"s":3,"x":26.0,"y":0.9},{"s":3,"x":26.5,"y":0.88},{"s":3,"x":27.0,"y":0.85},{"s":3,"x":27.5,"y":0.82},{"s":3,"x":28.0,"y":0.8},{"s":3,"x":28.5,"y":0.78},{"s":3,"x":29.0,"y":0.85},{"s":3,"x":29.5,"y":0.78},{"s":3,"x":30.0,"y":0.7},{"s":3,"x":30.5,"y":0.62},{"s":3,"x":31.0,"y":0.58},{"s":3,"x":31.5,"y":0.6},{"s":3,"x":32.0,"y":0.6},{"s":3,"x":32.5,"y":0.62},{"s":3,"x":33.0,"y":0.55},{"s":3,"x":33.4,"y":0.52},{"s":3,"x":33.8,"y":0.45},{"s":3,"x":34.3,"y":0.4},{"s":3,"x":34.8,"y":0.3},{"s":3,"x":35.2,"y":0.25},{"s":3,"x":35.6,"y":0.15},{"s":3,"x":36.0,"y":0.18},{"s":3,"x":36.5,"y":0.25},{"s":3,"x":37.0,"y":0.2},{"s":3,"x":37.5,"y":0.1},{"s":3,"x":38.0,"y":0.05},{"s":3,"x":38.5,"y":0.12},{"s":3,"x":39.0,"y":0.18},{"s":3,"x":39.5,"y":0.12},{"s":3,"x":40.0,"y":0.05},{"s":3,"x":40.5,"y":0.06},{"s":3,"x":41.0,"y":0.1},{"s":3,"x":41.5,"y":0.06},{"s":3,"x":42.0,"y":0.04},{"s":3,"x":42.5,"y":0.08},{"s":3,"x":43.0,"y":0.1},{"s":3,"x":43.5,"y":0.05},{"s":3,"x":44.0,"y":0.02},{"s":3,"x":44.5,"y":0.04},{"s":3,"x":45.0,"y":0.06},{"s":3,"x":45.5,"y":0.08},{"s":3,"x":46.0,"y":0.06},{"s":3,"x":47.0,"y":0.03},{"s":3,"x":48.0,"y":0.02},{"s":3,"x":50,"y":0.04},{"s":3,"x":52,"y":0.03},{"s":3,"x":54,"y":0.05},{"s":3,"x":56,"y":0.03},{"s":3,"x":58,"y":0.04},{"s":3,"x":59,"y":0.06},{"s":3,"x":60,"y":0.03},{"s":3,"x":62,"y":0.04},{"s":3,"x":64,"y":0.03},{"s":3,"x":66,"y":0.04},{"s":3,"x":68,"y":0.05},{"s":3,"x":70,"y":0.04},{"s":3,"x":71,"y":0.02},{"s":3,"x":72,"y":0.04},{"s":3,"x":74.79,"y":0.05}
],
"b2":[
{"s":0,"x":0,"y":1.5},{"s":0,"x":0.4,"y":1.5},{"s":0,"x":0.8,"y":1.6},{"s":0,"x":1.2,"y":1.55},{"s":0,"x":1.6,"y":1.62},{"s":0,"x":2.0,"y":1.75},{"s":0,"x":2.4,"y":1.8},{"s":0,"x":2.8,"y":1.6},{"s":0,"x":3.1,"y":1.85},{"s":0,"x":3.4,"y":1.6},{"s":0,"x":3.8,"y":1.45},{"s":0,"x":4.2,"y":1.35},{"s":0,"x":4.5,"y":1.3},{"s":0,"x":4.9,"y":1.35},{"s":0,"x":5.3,"y":1.5},{"s":0,"x":5.7,"y":1.4},{"s":0,"x":6.0,"y":1.3},{"s":0,"x":6.4,"y":1.25},{"s":0,"x":6.8,"y":1.2},{"s":0,"x":7.1,"y":1.15},{"s":0,"x":7.5,"y":1.3},{"s":0,"x":7.9,"y":1.35},{"s":0,"x":8.3,"y":1.25},{"s":0,"x":8.7,"y":1.2},{"s":0,"x":9.1,"y":1.3},{"s":0,"x":9.5,"y":1.35},{"s":0,"x":9.9,"y":1.25},{"s":0,"x":10.3,"y":1.2},{"s":0,"x":10.7,"y":1.3},{"s":0,"x":11.1,"y":1.35},{"s":0,"x":11.5,"y":1.45},{"s":0,"x":11.9,"y":1.3},{"s":0,"x":12.3,"y":1.2},{"s":0,"x":12.7,"y":1.15},{"s":0,"x":13.1,"y":1.1},{"s":0,"x":13.5,"y":1.15},{"s":0,"x":13.9,"y":1.25},{"s":0,"x":14.3,"y":1.15},{"s":0,"x":14.7,"y":1.2},{"s":0,"x":15.1,"y":1.25},{"s":0,"x":15.5,"y":1.15},{"s":0,"x":15.9,"y":1.1},{"s":0,"x":16.3,"y":1.25},{"s":0,"x":16.7,"y":1.2},{"s":0,"x":17.1,"y":1.15},{"s":0,"x":17.5,"y":1.2},{"s":0,"x":17.9,"y":1.22},{"s":0,"x":18.3,"y":1.15},{"s":0,"x":18.7,"y":1.1},{"s":0,"x":19.1,"y":1.05},{"s":0,"x":19.5,"y":1.15},{"s":0,"x":19.9,"y":1.2},{"s":0,"x":20.3,"y":1.05},{"s":0,"x":20.7,"y":0.95},{"s":0,"x":21.0,"y":0.92},{"s":0,"x":21.4,"y":1.05},{"s":0,"x":21.8,"y":1.15},{"s":0,"x":22.2,"y":1.2},{"s":0,"x":22.6,"y":1.15},{"s":0,"x":23.0,"y":1.1},{"s":0,"x":23.5,"y":1.05},{"s":0,"x":24.0,"y":1.08},{"s":0,"x":24.5,"y":1.15},{"s":0,"x":25.0,"y":1.2},{"s":0,"x":25.5,"y":1.22},{"s":0,"x":26.0,"y":1.18},{"s":0,"x":26.5,"y":1.25},{"s":0,"x":27.0,"y":1.22},{"s":0,"x":27.5,"y":1.28},{"s":0,"x":28.0,"y":1.3},{"s":0,"x":28.4,"y":1.2},{"s":0,"x":28.8,"y":1.15},{"s":0,"x":29.2,"y":1.3},{"s":0,"x":29.5,"y":1.42},{"s":0,"x":29.9,"y":1.45},{"s":0,"x":30.3,"y":1.35},{"s":0,"x":30.7,"y":1.3},{"s":0,"x":31.0,"y":1.2},{"s":0,"x":31.3,"y":1.15},{"s":0,"x":31.7,"y":1.25},{"s":0,"x":32.0,"y":1.35},{"s":0,"x":32.3,"y":1.1},{"s":0,"x":32.6,"y":0.95},{"s":0,"x":33.0,"y":1.15},{"s":0,"x":33.3,"y":1.35},{"s":0,"x":33.6,"y":1.3},{"s":0,"x":34.0,"y":1.2},{"s":0,"x":34.3,"y":1.0},{"s":0,"x":34.6,"y":0.85},{"s":0,"x":35.0,"y":1.0},{"s":0,"x":35.3,"y":1.1},{"s":0,"x":35.7,"y":1.08},{"s":0,"x":36.1,"y":1.05},{"s":0,"x":36.5,"y":0.9},{"s":0,"x":36.9,"y":0.85},{"s":0,"x":37.3,"y":0.9},{"s":0,"x":37.7,"y":0.92},{"s":0,"x":38.1,"y":0.85},{"s":0,"x":38.6,"y":0.75},{"s":0,"x":39.0,"y":0.5},{"s":0,"x":39.4,"y":0.3},{"s":0,"x":39.8,"y":0.15},{"s":0,"x":40.2,"y":0.2},{"s":0,"x":40.6,"y":0.35},{"s":0,"x":41.0,"y":0.45},{"s":0,"x":41.4,"y":0.52},{"s":0,"x":41.8,"y":0.48},{"s":0,"x":42.2,"y":0.3},{"s":0,"x":42.6,"y":0.12},{"s":0,"x":43.0,"y":0.03},{"s":0,"x":43.5,"y":0.05},{"s":0,"x":44.0,"y":0.12},{"s":0,"x":44.5,"y":0.18},{"s":0,"x":45.0,"y":0.2},{"s":0,"x":45.5,"y":0.15},{"s":0,"x":46.0,"y":0.1},{"s":0,"x":46.5,"y":0.07},{"s":0,"x":47.5,"y":0.06},{"s":0,"x":49,"y":0.05},{"s":0,"x":51,"y":0.04},{"s":0,"x":53,"y":0.06},{"s":0,"x":55,"y":0.04},{"s":0,"x":57,"y":0.05},{"s":0,"x":59,"y":0.04},{"s":0,"x":61,"y":0.05},{"s":0,"x":63,"y":0.04},{"s":0,"x":64.5,"y":0.06},{"s":0,"x":65.5,"y":0.1},{"s":0,"x":66.5,"y":0.07},{"s":0,"x":67.5,"y":0.09},{"s":0,"x":68.5,"y":0.1},{"s":0,"x":69.5,"y":0.06},{"s":0,"x":70.5,"y":0.11},{"s":0,"x":71.5,"y":0.07},{"s":0,"x":72.5,"y":0.05},{"s":0,"x":73.5,"y":0.08},{"s":0,"x":74.79,"y":0.07},
{"s":1,"x":0,"y":1.2},{"s":1,"x":0.3,"y":1.18},{"s":1,"x":0.6,"y":1.15},{"s":1,"x":0.9,"y":1.2},{"s":1,"x":1.2,"y":1.3},{"s":1,"x":1.5,"y":1.35},{"s":1,"x":1.8,"y":1.55},{"s":1,"x":2.1,"y":1.62},{"s":1,"x":2.4,"y":1.58},{"s":1,"x":2.8,"y":1.55},{"s":1,"x":3.2,"y":1.6},{"s":1,"x":3.6,"y":1.55},{"s":1,"x":4.0,"y":1.62},{"s":1,"x":4.4,"y":1.65},{"s":1,"x":4.8,"y":1.7},{"s":1,"x":5.1,"y":1.65},{"s":1,"x":5.5,"y":1.58},{"s":1,"x":5.9,"y":1.55},{"s":1,"x":6.3,"y":1.5},{"s":1,"x":6.7,"y":1.48},{"s":1,"x":7.1,"y":1.52},{"s":1,"x":7.5,"y":1.55},{"s":1,"x":7.9,"y":1.45},{"s":1,"x":8.3,"y":1.4},{"s":1,"x":8.7,"y":1.42},{"s":1,"x":9.2,"y":1.4},{"s":1,"x":9.6,"y":1.38},{"s":1,"x":10.0,"y":1.35},{"s":1,"x":10.5,"y":1.35},{"s":1,"x":11.0,"y":1.4},{"s":1,"x":11.5,"y":1.38},{"s":1,"x":12.0,"y":1.35},{"s":1,"x":12.5,"y":1.4},{"s":1,"x":13.0,"y":1.38},{"s":1,"x":13.5,"y":1.4},{"s":1,"x":14.0,"y":1.35},{"s":1,"x":14.5,"y":1.3},{"s":1,"x":15.0,"y":1.25},{"s":1,"x":15.5,"y":1.28},{"s":1,"x":16.0,"y":1.3},{"s":1,"x":16.5,"y":1.25},{"s":1,"x":17.0,"y":1.28},{"s":1,"x":17.5,"y":1.3},{"s":1,"x":18.0,"y":1.25},{"s":1,"x":18.5,"y":1.22},{"s":1,"x":19.0,"y":1.2},{"s":1,"x":19.5,"y":1.18},{"s":1,"x":20.0,"y":1.15},{"s":1,"x":20.5,"y":1.15},{"s":1,"x":21.0,"y":1.15},{"s":1,"x":21.5,"y":1.17},{"s":1,"x":22.0,"y":1.2},{"s":1,"x":22.5,"y":1.22},{"s":1,"x":23.0,"y":1.2},{"s":1,"x":23.5,"y":1.18},{"s":1,"x":24.0,"y":1.15},{"s":1,"x":24.5,"y":1.12},{"s":1,"x":25.0,"y":1.1},{"s":1,"x":25.5,"y":1.12},{"s":1,"x":26.0,"y":1.1},{"s":1,"x":26.5,"y":1.12},{"s":1,"x":27.0,"y":1.08},{"s":1,"x":27.5,"y":1.05},{"s":1,"x":28.0,"y":1.08},{"s":1,"x":28.5,"y":1.02},{"s":1,"x":29.0,"y":1.0},{"s":1,"x":29.5,"y":1.05},{"s":1,"x":30.0,"y":0.98},{"s":1,"x":30.5,"y":0.95},{"s":1,"x":31.0,"y":0.9},{"s":1,"x":31.5,"y":0.98},{"s":1,"x":32.0,"y":0.85},{"s":1,"x":32.4,"y":0.78},{"s":1,"x":32.8,"y":0.9},{"s":1,"x":33.2,"y":0.95},{"s":1,"x":33.6,"y":0.8},{"s":1,"x":34.0,"y":0.72},{"s":1,"x":34.5,"y":0.75},{"s":1,"x":35.0,"y":0.72},{"s":1,"x":35.5,"y":0.6},{"s":1,"x":36.0,"y":0.62},{"s":1,"x":36.5,"y":0.55},{"s":1,"x":37.0,"y":0.48},{"s":1,"x":37.5,"y":0.5},{"s":1,"x":38.0,"y":0.45},{"s":1,"x":38.5,"y":0.35},{"s":1,"x":39.0,"y":0.3},{"s":1,"x":39.5,"y":0.2},{"s":1,"x":40.0,"y":0.1},{"s":1,"x":40.5,"y":0.15},{"s":1,"x":41.0,"y":0.25},{"s":1,"x":41.5,"y":0.35},{"s":1,"x":41.9,"y":0.33},{"s":1,"x":42.3,"y":0.2},{"s":1,"x":42.7,"y":0.08},{"s":1,"x":43.2,"y":0.02},{"s":1,"x":43.8,"y":0.05},{"s":1,"x":44.4,"y":0.1},{"s":1,"x":45.0,"y":0.12},{"s":1,"x":45.6,"y":0.08},{"s":1,"x":46.2,"y":0.05},{"s":1,"x":47,"y":0.04},{"s":1,"x":49,"y":0.03},{"s":1,"x":51,"y":0.04},{"s":1,"x":53,"y":0.03},{"s":1,"x":55,"y":0.04},{"s":1,"x":57,"y":0.03},{"s":1,"x":59,"y":0.02},{"s":1,"x":61,"y":0.03},{"s":1,"x":63,"y":0.04},{"s":1,"x":65,"y":0.03},{"s":1,"x":67,"y":0.05},{"s":1,"x":69,"y":0.04},{"s":1,"x":70.5,"y":0.06},{"s":1,"x":72,"y":0.08},{"s":1,"x":73,"y":0.04},{"s":1,"x":74.79,"y":0.06},
{"s":2,"x":0,"y":1.1},{"s":2,"x":0.3,"y":1.05},{"s":2,"x":0.5,"y":0.95},{"s":2,"x":0.8,"y":1.05},{"s":2,"x":1.1,"y":1.15},{"s":2,"x":1.4,"y":1.4},{"s":2,"x":1.7,"y":1.7},{"s":2,"x":2.0,"y":2.0},{"s":2,"x":2.3,"y":1.9},{"s":2,"x":2.6,"y":1.8},{"s":2,"x":2.9,"y":1.75},{"s":2,"x":3.3,"y":1.75},{"s":2,"x":3.7,"y":1.82},{"s":2,"x":4.1,"y":1.88},{"s":2,"x":4.6,"y":1.92},{"s":2,"x":5.0,"y":1.88},{"s":2,"x":5.3,"y":1.85},{"s":2,"x":5.7,"y":1.82},{"s":2,"x":6.0,"y":1.82},{"s":2,"x":6.4,"y":1.86},{"s":2,"x":6.8,"y":1.82},{"s":2,"x":7.2,"y":1.7},{"s":2,"x":7.6,"y":1.62},{"s":2,"x":8.0,"y":1.6},{"s":2,"x":8.5,"y":1.58},{"s":2,"x":9.0,"y":1.56},{"s":2,"x":9.5,"y":1.55},{"s":2,"x":10.0,"y":1.55},{"s":2,"x":10.5,"y":1.53},{"s":2,"x":11.0,"y":1.52},{"s":2,"x":11.5,"y":1.5},{"s":2,"x":12.0,"y":1.5},{"s":2,"x":12.5,"y":1.48},{"s":2,"x":13.0,"y":1.48},{"s":2,"x":13.5,"y":1.45},{"s":2,"x":14.0,"y":1.45},{"s":2,"x":14.5,"y":1.43},{"s":2,"x":15.0,"y":1.42},{"s":2,"x":15.5,"y":1.44},{"s":2,"x":16.0,"y":1.42},{"s":2,"x":16.5,"y":1.38},{"s":2,"x":17.0,"y":1.35},{"s":2,"x":17.5,"y":1.3},{"s":2,"x":18.0,"y":1.28},{"s":2,"x":18.5,"y":1.25},{"s":2,"x":19.0,"y":1.22},{"s":2,"x":19.5,"y":1.2},{"s":2,"x":20.0,"y":1.18},{"s":2,"x":20.5,"y":1.16},{"s":2,"x":21.0,"y":1.15},{"s":2,"x":21.5,"y":1.14},{"s":2,"x":22.0,"y":1.15},{"s":2,"x":22.5,"y":1.13},{"s":2,"x":23.0,"y":1.1},{"s":2,"x":23.5,"y":1.05},{"s":2,"x":24.0,"y":1.02},{"s":2,"x":24.5,"y":0.98},{"s":2,"x":25.0,"y":0.95},{"s":2,"x":25.5,"y":0.9},{"s":2,"x":26.0,"y":0.88},{"s":2,"x":26.5,"y":0.85},{"s":2,"x":27.0,"y":0.8},{"s":2,"x":27.5,"y":0.82},{"s":2,"x":28.0,"y":0.86},{"s":2,"x":28.5,"y":0.78},{"s":2,"x":29.0,"y":0.72},{"s":2,"x":29.5,"y":0.72},{"s":2,"x":30.0,"y":0.7},{"s":2,"x":30.5,"y":0.68},{"s":2,"x":31.0,"y":0.62},{"s":2,"x":31.5,"y":0.65},{"s":2,"x":32.0,"y":0.64},{"s":2,"x":32.5,"y":0.6},{"s":2,"x":33.0,"y":0.55},{"s":2,"x":33.5,"y":0.58},{"s":2,"x":34.0,"y":0.56},{"s":2,"x":34.5,"y":0.48},{"s":2,"x":35.0,"y":0.45},{"s":2,"x":35.5,"y":0.5},{"s":2,"x":36.0,"y":0.45},{"s":2,"x":36.5,"y":0.38},{"s":2,"x":37.0,"y":0.35},{"s":2,"x":37.5,"y":0.3},{"s":2,"x":38.0,"y":0.25},{"s":2,"x":38.5,"y":0.2},{"s":2,"x":39.0,"y":0.22},{"s":2,"x":39.5,"y":0.2},{"s":2,"x":40.0,"y":0.12},{"s":2,"x":40.5,"y":0.08},{"s":2,"x":41.0,"y":0.15},{"s":2,"x":41.4,"y":0.21},{"s":2,"x":41.8,"y":0.18},{"s":2,"x":42.2,"y":0.1},{"s":2,"x":42.7,"y":0.05},{"s":2,"x":43.2,"y":0.03},{"s":2,"x":44,"y":0.05},{"s":2,"x":44.8,"y":0.08},{"s":2,"x":45.5,"y":0.06},{"s":2,"x":46.5,"y":0.04},{"s":2,"x":48,"y":0.04},{"s":2,"x":50,"y":0.03},{"s":2,"x":52,"y":0.04},{"s":2,"x":54,"y":0.03},{"s":2,"x":56,"y":0.04},{"s":2,"x":58,"y":0.05},{"s":2,"x":60,"y":0.04},{"s":2,"x":62,"y":0.05},{"s":2,"x":64,"y":0.04},{"s":2,"x":66,"y":0.06},{"s":2,"x":68,"y":0.05},{"s":2,"x":70,"y":0.06},{"s":2,"x":72,"y":0.05},{"s":2,"x":74.79,"y":0.05},
{"s":3,"x":0,"y":0.8},{"s":3,"x":0.3,"y":0.78},{"s":3,"x":0.6,"y":0.75},{"s":3,"x":0.9,"y":0.8},{"s":3,"x":1.2,"y":0.85},{"s":3,"x":1.5,"y":0.95},{"s":3,"x":1.8,"y":1.3},{"s":3,"x":2.0,"y":1.6},{"s":3,"x":2.2,"y":1.95},{"s":3,"x":2.4,"y":2.05},{"s":3,"x":2.7,"y":2.12},{"s":3,"x":3.0,"y":2.0},{"s":3,"x":3.2,"y":1.95},{"s":3,"x":3.5,"y":2.0},{"s":3,"x":3.8,"y":2.05},{"s":3,"x":4.1,"y":2.08},{"s":3,"x":4.4,"y":2.1},{"s":3,"x":4.7,"y":2.13},{"s":3,"x":4.9,"y":2.15},{"s":3,"x":5.2,"y":2.1},{"s":3,"x":5.5,"y":2.05},{"s":3,"x":5.9,"y":2.02},{"s":3,"x":6.2,"y":2.0},{"s":3,"x":6.6,"y":2.02},{"s":3,"x":6.9,"y":2.0},{"s":3,"x":7.2,"y":1.9},{"s":3,"x":7.5,"y":1.8},{"s":3,"x":7.8,"y":1.7},{"s":3,"x":8.1,"y":1.65},{"s":3,"x":8.5,"y":1.62},{"s":3,"x":9.0,"y":1.63},{"s":3,"x":9.5,"y":1.66},{"s":3,"x":10.0,"y":1.65},{"s":3,"x":10.5,"y":1.63},{"s":3,"x":11.0,"y":1.62},{"s":3,"x":11.5,"y":1.64},{"s":3,"x":12.0,"y":1.6},{"s":3,"x":12.5,"y":1.6},{"s":3,"x":13.0,"y":1.58},{"s":3,"x":13.5,"y":1.59},{"s":3,"x":14.0,"y":1.56},{"s":3,"x":14.5,"y":1.55},{"s":3,"x":15.0,"y":1.56},{"s":3,"x":15.5,"y":1.55},{"s":3,"x":16.0,"y":1.53},{"s":3,"x":16.5,"y":1.54},{"s":3,"x":17.0,"y":1.52},{"s":3,"x":17.5,"y":1.5},{"s":3,"x":18.0,"y":1.48},{"s":3,"x":18.5,"y":1.45},{"s":3,"x":19.0,"y":1.42},{"s":3,"x":19.5,"y":1.38},{"s":3,"x":20.0,"y":1.35},{"s":3,"x":20.5,"y":1.3},{"s":3,"x":21.0,"y":1.28},{"s":3,"x":21.5,"y":1.25},{"s":3,"x":22.0,"y":1.2},{"s":3,"x":22.5,"y":1.15},{"s":3,"x":23.0,"y":1.12},{"s":3,"x":23.5,"y":1.1},{"s":3,"x":24.0,"y":1.05},{"s":3,"x":24.5,"y":1.0},{"s":3,"x":25.0,"y":0.97},{"s":3,"x":25.5,"y":0.94},{"s":3,"x":26.0,"y":0.88},{"s":3,"x":26.5,"y":0.84},{"s":3,"x":27.0,"y":0.8},{"s":3,"x":27.5,"y":0.76},{"s":3,"x":28.0,"y":0.73},{"s":3,"x":28.5,"y":0.7},{"s":3,"x":29.0,"y":0.65},{"s":3,"x":29.5,"y":0.6},{"s":3,"x":30.0,"y":0.58},{"s":3,"x":30.5,"y":0.52},{"s":3,"x":31.0,"y":0.5},{"s":3,"x":31.5,"y":0.48},{"s":3,"x":32.0,"y":0.42},{"s":3,"x":32.5,"y":0.4},{"s":3,"x":33.0,"y":0.38},{"s":3,"x":33.5,"y":0.35},{"s":3,"x":34.0,"y":0.32},{"s":3,"x":34.5,"y":0.3},{"s":3,"x":35.0,"y":0.3},{"s":3,"x":35.5,"y":0.28},{"s":3,"x":36.0,"y":0.22},{"s":3,"x":36.5,"y":0.18},{"s":3,"x":37.0,"y":0.17},{"s":3,"x":37.5,"y":0.15},{"s":3,"x":38.0,"y":0.1},{"s":3,"x":38.5,"y":0.08},{"s":3,"x":39.0,"y":0.12},{"s":3,"x":39.5,"y":0.1},{"s":3,"x":40.0,"y":0.03},{"s":3,"x":40.5,"y":0.04},{"s":3,"x":41.0,"y":0.08},{"s":3,"x":41.5,"y":0.1},{"s":3,"x":42.0,"y":0.05},{"s":3,"x":42.5,"y":0.02},{"s":3,"x":43.0,"y":0.03},{"s":3,"x":43.5,"y":0.05},{"s":3,"x":44.5,"y":0.06},{"s":3,"x":45.5,"y":0.05},{"s":3,"x":46.5,"y":0.03},{"s":3,"x":48,"y":0.04},{"s":3,"x":50,"y":0.03},{"s":3,"x":52,"y":0.02},{"s":3,"x":54,"y":0.03},{"s":3,"x":56,"y":0.04},{"s":3,"x":58,"y":0.03},{"s":3,"x":60,"y":0.04},{"s":3,"x":62,"y":0.03},{"s":3,"x":64,"y":0.04},{"s":3,"x":66,"y":0.05},{"s":3,"x":68,"y":0.04},{"s":3,"x":70,"y":0.06},{"s":3,"x":71,"y":0.04},{"s":3,"x":72,"y":0.05},{"s":3,"x":73.5,"y":0.06},{"s":3,"x":74.79,"y":0.06}
]
},
"columns":2,
"spacing":{"row":87,"column":29},
"resolve":{"scale":{"color":"independent"},"legend":{"color":"independent"}},
"concat":[
{"width":440,"height":316,"data":{"name":"a"},
 "title":{"text":"(a) warp yarn 2 at 3 μs","orient":"bottom","offset":35,"dx":-16},
 "mark":"line",
 "encoding":{
  "x":{"field":"x","type":"quantitative","scale":{"domain":[0,74.79],"nice":false,"zero":false},"axis":{"values":[0,10.87,21.52,32.17,42.83,53.48,64.13,74.79],"format":".2f","title":"Distance (mm)"}},
  "y":{"field":"y","type":"quantitative","scale":{"domain":[0,2.5],"nice":false},"axis":{"values":[0,0.5,1,1.5,2,2.5],"format":"~g","title":"Tensile stress (GPa)","titlePadding":5}},
  "color":{"field":"s","type":"nominal","scale":{"domain":[0,1,2,3],"range":["#4F81BD","#C0504D","#9BBB59","#8064A2"]},"legend":{"orient":"none","legendX":164,"legendY":2,"title":null,"rowPadding":5.5,"labelExpr":"['CSF=0,CKF=0','CSF=0.3,CKF=0.25','CSF=0.6,CKF=0.55','CSF=0.9,CKF=0.85'][datum.value]"}}
 }},
{"width":446,"height":319,"data":{"name":"a2"},
 "title":{"text":"(a’) weft yarn 2 at 3 μs","orient":"bottom","offset":35,"dx":9},
 "mark":"line",
 "encoding":{
  "x":{"field":"x","type":"quantitative","scale":{"domain":[0,74.79],"nice":false,"zero":false},"axis":{"values":[0,10.87,21.52,32.17,42.83,53.48,64.13,74.79],"format":".2f","title":"Distance (mm)"}},
  "y":{"field":"y","type":"quantitative","scale":{"domain":[0,2.5],"nice":false},"axis":{"values":[0,0.5,1,1.5,2,2.5],"format":"~g","title":"Tensile stress  (GPa)","titlePadding":1}},
  "color":{"field":"s","type":"nominal","scale":{"domain":[0,1,2,3],"range":["#4F81BD","#C0504D","#9BBB59","#8064A2"]},"legend":{"orient":"none","legendX":187,"legendY":5,"title":null,"rowPadding":5.7,"labelExpr":"['CSF=0,CKF=0','CSF=0.3,CKF=0.25','CSF=0.6,CKF=0.55','CSF=0.9,CKF=0.85'][datum.value]"}}
 }},
{"width":435,"height":307,"data":{"name":"b"},
 "title":{"text":"(b) warp yarn 2 at 6 μs","orient":"bottom","offset":35,"dx":-8},
 "mark":"line",
 "encoding":{
  "x":{"field":"x","type":"quantitative","scale":{"domain":[0,74.79],"nice":false,"zero":false},"axis":{"values":[0,10.87,21.52,32.17,42.83,53.48,64.13,74.79],"format":".2f","title":"Distance (mm)"}},
  "y":{"field":"y","type":"quantitative","scale":{"domain":[0,3],"nice":false},"axis":{"values":[0,0.5,1,1.5,2,2.5,3],"format":"~g","title":"Tensile stress  (GPa)","titlePadding":0}},
  "color":{"field":"s","type":"nominal","scale":{"domain":[0,1,2,3],"range":["#4F81BD","#C0504D","#9BBB59","#8064A2"]},"legend":{"orient":"none","legendX":177,"legendY":-10,"title":null,"rowPadding":2,"labelExpr":"['CSF=0,CKF=0','CSF=0.3,CKF=0.25','CSF=0.6,CKF=0.55','CSF=0.9,CKF=0.85'][datum.value]"}}
 }},
{"width":425,"height":311,"data":{"name":"b2"},
 "title":{"text":"(b’) weft yarn 2 at 6 μs","orient":"bottom","offset":35,"dx":15},
 "mark":"line",
 "encoding":{
  "x":{"field":"x","type":"quantitative","scale":{"domain":[0,74.79],"nice":false,"zero":false},"axis":{"values":[0,10.87,21.52,32.17,42.83,53.48,64.13,74.79],"format":".2f","title":"Distance (mm)"}},
  "y":{"field":"y","type":"quantitative","scale":{"domain":[0,2.5],"nice":false},"axis":{"values":[0,0.5,1,1.5,2,2.5],"format":"~g","title":"Tensile stress  (GPa)","titlePadding":12}},
  "color":{"field":"s","type":"nominal","scale":{"domain":[0,1,2,3],"range":["#4F81BD","#C0504D","#9BBB59","#8064A2"]},"legend":{"orient":"none","legendX":178,"legendY":-25,"title":null,"rowPadding":4.7,"labelExpr":"['CSF=0,CKF=0','CSF=0.3,CKF=0.25','CSF=0.6,CKF=0.55','CSF=0.9,CKF=0.85'][datum.value]"}}
 }}
]
}
